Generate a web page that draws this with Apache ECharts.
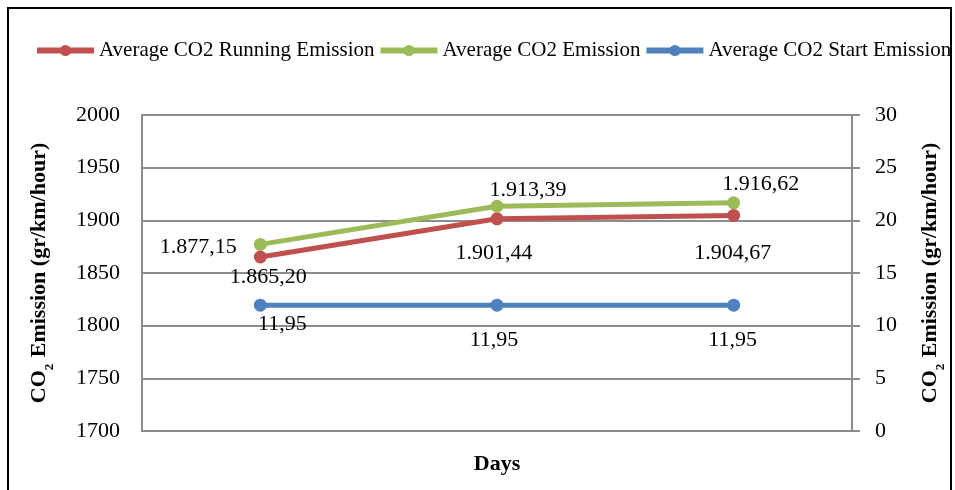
<!DOCTYPE html>
<html><head><meta charset="utf-8">
<script src="https://cdn.jsdelivr.net/npm/echarts@6/dist/echarts.min.js"></script>
<style>html,body{margin:0;padding:0;background:#fff}#c{width:955px;height:490px}</style>
</head><body><div id="c"></div>
<script>
var days = ['Day 1', 'Day 2', 'Day 3'];
var runningEmission = [1865.20, 1901.44, 1904.67];
var totalEmission = [1877.15, 1913.39, 1916.62];
var startEmission = [11.95, 11.95, 11.95];
var leftTicks = {min: 1700, max: 2000, interval: 50};
var rightTicks = {min: 0, max: 30, interval: 5};

function euro(v) {
  var s = v.toFixed(2).split('.');
  var i = s[0].replace(/\B(?=(\d{3})+(?!\d))/g, '.');
  return i + ',' + s[1];
}
var FONT = 'Liberation Serif';
var GRAY = '#8c8c8c';
function lbl(pos, off) {
  return {show: true, position: pos, offset: off, fontFamily: FONT, fontSize: 22, color: '#000',
    formatter: function (p) { return euro(p.value); }};
}
var titleRich = {
  a: {fontFamily: FONT, fontSize: 22, fontWeight: 'bold', color: '#000', lineHeight: 26, verticalAlign: 'middle'},
  s: {fontFamily: FONT, fontSize: 13, fontWeight: 'bold', color: '#000', lineHeight: 26, verticalAlign: 'bottom', padding: [0, 1, -4, 0]}
};
var chart = echarts.init(document.getElementById('c'));
chart.setOption({
  animation: false,
  textStyle: {fontFamily: FONT},
  graphic: [{type: 'rect', shape: {x: 8, y: 8, width: 943, height: 500},
    style: {fill: 'none', stroke: '#000', lineWidth: 2}, silent: true, z: -1}],
  legend: {
    left: 34, top: 40, width: 940, padding: 0, itemWidth: 57, itemHeight: 14, itemGap: 3,
    lineStyle: {width: 6},
    textStyle: {fontFamily: FONT, fontSize: 21, color: '#000'},
    data: ['Average CO2 Running Emission', 'Average CO2 Emission', 'Average CO2 Start Emission']
  },
  grid: {left: 142, right: 97, top: 115, bottom: 59},
  xAxis: {
    type: 'category', data: days, boundaryGap: true,
    name: 'Days', nameLocation: 'middle', nameGap: 22,
    nameTextStyle: {fontFamily: FONT, fontSize: 22, fontWeight: 'bold', color: '#000'},
    axisLine: {lineStyle: {color: GRAY, width: 2}}, axisTick: {show: false}, axisLabel: {show: false}
  },
  yAxis: [{
    type: 'value', min: leftTicks.min, max: leftTicks.max, interval: leftTicks.interval,
    name: '{a|CO}{s|2}{a| Emission (gr/km/hour)}', nameLocation: 'middle', nameRotate: 90, nameGap: 90,
    nameTextStyle: {rich: titleRich},
    axisLine: {show: true, lineStyle: {color: GRAY, width: 2}}, axisTick: {show: false},
    axisLabel: {margin: 22, fontFamily: FONT, fontSize: 22, color: '#000', formatter: function (v) { return String(v); }},
    splitLine: {lineStyle: {color: GRAY, width: 2}}
  }, {
    type: 'value', min: rightTicks.min, max: rightTicks.max, interval: rightTicks.interval,
    name: '{a|CO}{s|2}{a| Emission (gr/km/hour)}', nameLocation: 'middle', nameRotate: 90, nameGap: 65,
    nameTextStyle: {rich: titleRich},
    axisLine: {show: true, lineStyle: {color: GRAY, width: 2}},
    axisTick: {show: true, length: 8, inside: false, lineStyle: {color: GRAY, width: 2}},
    axisLabel: {margin: 23, fontFamily: FONT, fontSize: 22, color: '#000', formatter: function (v) { return String(v); }},
    splitLine: {show: false}
  }],
  series: [{
    name: 'Average CO2 Running Emission', type: 'line', yAxisIndex: 0,
    data: [
      {value: runningEmission[0], label: lbl('bottom', [8, -2])},
      {value: runningEmission[1], label: lbl('bottom', [-3, 12])},
      {value: runningEmission[2], label: lbl('bottom', [-1, 15])}
    ],
    symbol: 'circle', symbolSize: 13, color: '#C0504D',
    lineStyle: {width: 5, color: '#C0504D'}, itemStyle: {color: '#C0504D'}
  }, {
    name: 'Average CO2 Emission', type: 'line', yAxisIndex: 0,
    data: [
      {value: totalEmission[0], label: lbl('left', [-12, 3])},
      {value: totalEmission[1], label: lbl('top', [31, 6])},
      {value: totalEmission[2], label: lbl('top', [27, 4])}
    ],
    symbol: 'circle', symbolSize: 13, color: '#9BBB59',
    lineStyle: {width: 5, color: '#9BBB59'}, itemStyle: {color: '#9BBB59'}
  }, {
    name: 'Average CO2 Start Emission', type: 'line', yAxisIndex: 1,
    data: [
      {value: startEmission[0], label: lbl('bottom', [22, -3])},
      {value: startEmission[1], label: lbl('bottom', [-3, 13])},
      {value: startEmission[2], label: lbl('bottom', [-1, 13])}
    ],
    symbol: 'circle', symbolSize: 13, color: '#4F81BD',
    lineStyle: {width: 5, color: '#4F81BD'}, itemStyle: {color: '#4F81BD'}
  }]
});
</script></body></html>
